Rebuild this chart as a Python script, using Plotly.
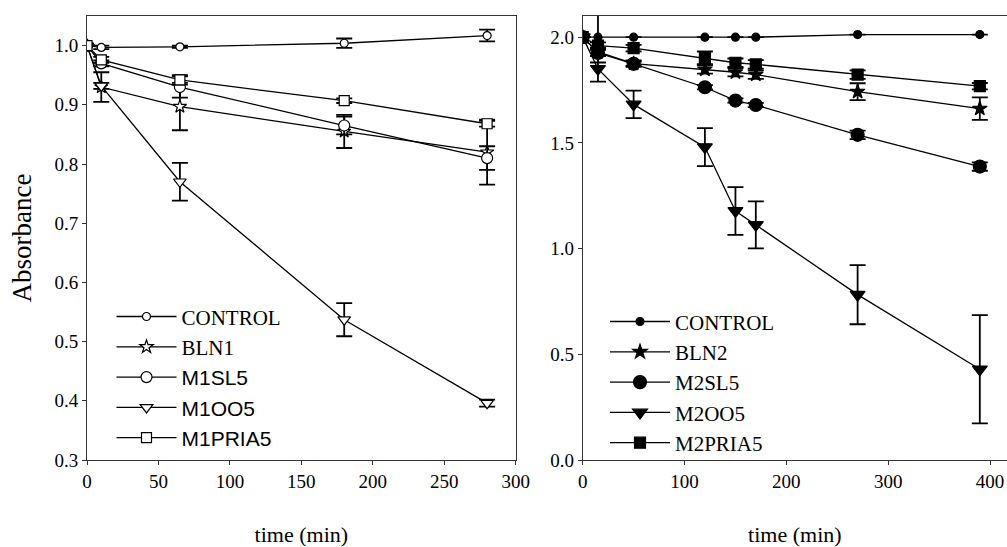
import plotly.graph_objects as go

# ---------- data: left panel ----------
t1 = [0, 10, 65, 180, 280]
control1 = [1.0, 0.997, 0.998, 1.004, 1.017]
control1_err = [None, 0.003, 0.002, 0.008, 0.010]
bln1 = [1.0, 0.930, 0.897, 0.855, 0.820]
bln1_err = [None, 0.025, 0.040, 0.028, 0.055]
m1sl5 = [1.0, 0.970, 0.930, 0.865, 0.810]
m1sl5_err = [None, 0.005, 0.018, 0.015, 0.020]
m1oo5 = [1.0, 0.932, 0.770, 0.537, 0.396]
m1oo5_err = [None, 0.005, 0.032, 0.028, 0.006]
m1pria5 = [1.0, 0.976, 0.942, 0.907, 0.868]
m1pria5_err = [None, 0.005, 0.008, 0.004, 0.005]

# ---------- data: right panel ----------
t2 = [0, 15, 50, 120, 150, 170, 270, 390]
control2 = [2.0, 2.0, 2.0, 2.0, 2.0, 2.0, 2.012, 2.012]
control2_err = [None, 0.12, None, None, None, None, None, None]
bln2 = [2.0, 1.930, 1.875, 1.847, 1.834, 1.823, 1.742, 1.662]
bln2_err = [None, 0.02, 0.015, 0.02, 0.02, 0.02, 0.04, 0.053]
m2sl5 = [2.0, 1.925, 1.874, 1.763, 1.700, 1.679, 1.538, 1.388]
m2sl5_err = [None, 0.015, 0.01, 0.01, 0.01, 0.01, 0.02, 0.02]
m2oo5 = [2.0, 1.850, 1.682, 1.480, 1.178, 1.112, 0.782, 0.429]
m2oo5_err = [None, 0.06, 0.065, 0.09, 0.113, 0.111, 0.14, 0.256]
m2pria5 = [2.0, 1.960, 1.948, 1.902, 1.879, 1.871, 1.823, 1.768]
m2pria5_err = [None, 0.015, 0.015, 0.03, 0.02, 0.02, 0.02, 0.015]

SERIF = "Liberation Serif, Times New Roman, serif"
SANS = "Liberation Sans, Arial, sans-serif"

fig = go.Figure()


def add(x, y, err, name, symbol, size, filled, xa, ya, legend, group):
    fig.add_trace(go.Scatter(
        x=x, y=y, name=name, mode="lines+markers",
        xaxis=xa, yaxis=ya, legend=legend, legendgroup=group,
        line=dict(color="black", width=1.3),
        marker=dict(symbol=symbol, size=size,
                    color="black" if filled else "white",
                    line=dict(color="black", width=1.2)),
        error_y=dict(type="data", array=err, visible=True,
                     color="black", thickness=1.8, width=8),
    ))


add(t1, control1, control1_err, "CONTROL", "circle", 8, False, "x", "y", "legend", "a1")
add(t1, bln1, bln1_err, "BLN1", "star", 10, False, "x", "y", "legend", "a2")
add(t1, m1sl5, m1sl5_err, f'<span style="font-family:{SANS}">M1SL5</span>',
    "circle", 11, False, "x", "y", "legend", "a3")
add(t1, m1oo5, m1oo5_err, f'<span style="font-family:{SANS}">M1OO5</span>',
    "triangle-down", 11, False, "x", "y", "legend", "a4")
add(t1, m1pria5, m1pria5_err, f'<span style="font-family:{SANS}">M1PRIA5</span>',
    "square", 10, False, "x", "y", "legend", "a5")

add(t2, control2, control2_err, "CONTROL", "circle", 8, True, "x2", "y2", "legend2", "b1")
add(t2, bln2, bln2_err, "BLN2", "star", 11, True, "x2", "y2", "legend2", "b2")
add(t2, m2sl5, m2sl5_err, "M2SL5", "circle", 13, True, "x2", "y2", "legend2", "b3")
add(t2, m2oo5, m2oo5_err, "M2OO5", "triangle-down", 13, True, "x2", "y2", "legend2", "b4")
add(t2, m2pria5, m2pria5_err, "M2PRIA5", "square", 11, True, "x2", "y2", "legend2", "b5")

W, H = 1007, 547
ML, MR, MT, MB = 87, 0, 15.5, 86.5
PW, PH = W - ML - MR, H - MT - MB


def px(x):
    return (x - ML) / PW


def py(y):
    return 1 - (y - MT) / PH


axis_common = dict(
    showgrid=False, zeroline=False, showline=True, linecolor="#333",
    linewidth=1, ticks="outside", ticklen=4, tickcolor="#333",
    automargin=False,
    tickfont=dict(family=SERIF, size=19, color="black"),
)

fig.update_layout(
    width=W, height=H,
    margin=dict(l=ML, r=MR, t=MT, b=MB, autoexpand=False),
    paper_bgcolor="white", plot_bgcolor="white",
    font=dict(family=SERIF, size=21, color="black"),
    xaxis=dict(domain=[0, px(515.7)], range=[0, 300], dtick=50,
               mirror=True, anchor="y",
               title=dict(text="time (min)", standoff=35,
                          font=dict(family=SERIF, size=22)),
               **axis_common),
    yaxis=dict(domain=[0, 1], range=[0.3, 1.05], dtick=0.1, tickformat=".1f",
               mirror=True, anchor="x",
               title=dict(text="Absorbance", standoff=15,
                          font=dict(family=SERIF, size=27)),
               **axis_common),
    xaxis2=dict(domain=[px(582.7), 1.0], range=[0, 416.7], dtick=100,
                mirror=True, anchor="y2",
                title=dict(text="time (min)", standoff=35,
                           font=dict(family=SERIF, size=22)),
                **axis_common),
    yaxis2=dict(domain=[0, 1], range=[0, 2.1], dtick=0.5, tickformat=".1f",
                mirror=False, anchor="x2", **axis_common),
    legend=dict(x=px(111.5), y=py(296.5), xanchor="left", yanchor="top",
                bgcolor="rgba(0,0,0,0)", traceorder="grouped",
                tracegroupgap=0, itemwidth=60,
                font=dict(family=SERIF, size=21, color="black")),
    legend2=dict(x=px(605), y=py(301.5), xanchor="left", yanchor="top",
                 bgcolor="rgba(0,0,0,0)", traceorder="grouped",
                 tracegroupgap=0, itemwidth=60,
                 font=dict(family=SERIF, size=21, color="black")),
)

fig.write_html("out.html",
               config={"displayModeBar": False},
               post_script="document.body.style.margin='0';"
                           "document.body.style.overflow='hidden';")
